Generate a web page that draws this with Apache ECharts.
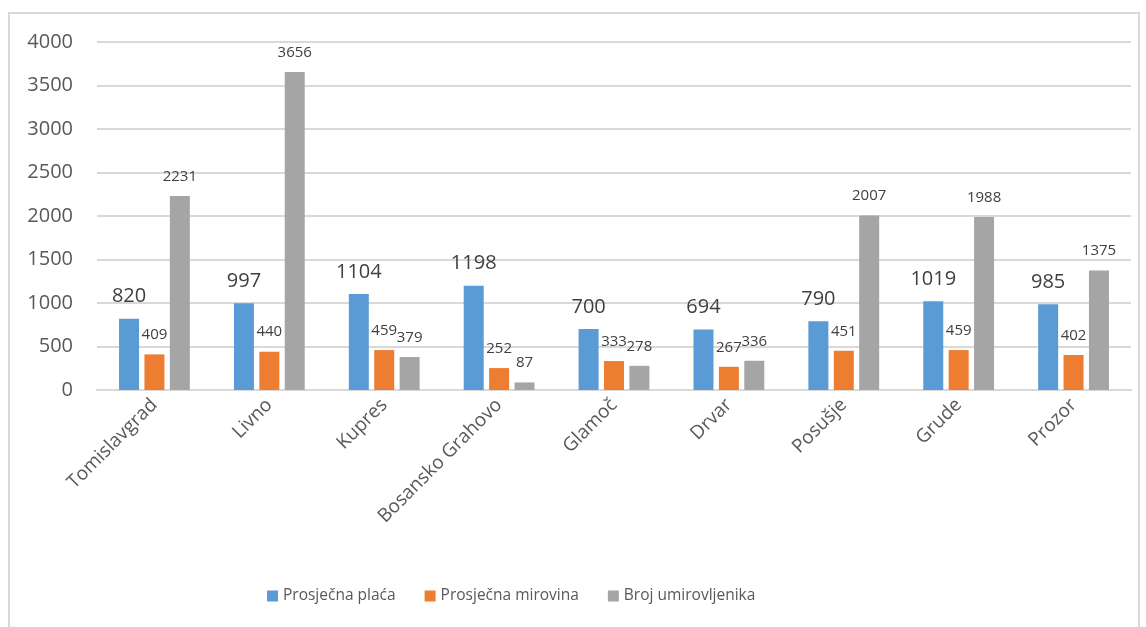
<!DOCTYPE html>
<html>
<head>
<meta charset="utf-8">
<script src="https://cdn.jsdelivr.net/npm/echarts@6/dist/echarts.min.js"></script>
<style>
  html, body { margin: 0; padding: 0; background: #fff; }
  #chart { width: 1146px; height: 627px; }
</style>
</head>
<body>
<div id="chart"></div>
<script>
const categories = ['Tomislavgrad', 'Livno', 'Kupres', 'Bosansko Grahovo', 'Glamoč', 'Drvar', 'Posušje', 'Grude', 'Prozor'];
const placa = [820, 997, 1104, 1198, 700, 694, 790, 1019, 985];
const mirovina = [409, 440, 459, 252, 333, 267, 451, 459, 402];
const umirovljenici = [2231, 3656, 379, 87, 278, 336, 2007, 1988, 1375];

const font = 'Open Sans';
const textColor = '#595959';

const chart = echarts.init(document.getElementById('chart'));

function barSeries(name, data, color, labelSize) {
  return {
    name: name,
    type: 'bar',
    data: data,
    barWidth: 20,
    barGap: '27%',
    itemStyle: { color: color },
    label: {
      show: true,
      position: 'top',
      distance: 12,
      color: '#404040',
      fontFamily: font,
      fontSize: labelSize
    }
  };
}

chart.setOption({
  animation: false,
  graphic: [{
    type: 'rect',
    shape: { x: 9, y: 13, width: 1130, height: 640 },
    style: { fill: 'none', stroke: '#d9d9d9', lineWidth: 2 },
    silent: true
  }],
  grid: { left: 97, right: 15, top: 42, bottom: 237 },
  legend: {
    left: 262,
    top: 583,
    itemWidth: 11,
    itemHeight: 11,
    itemGap: 29,
    icon: 'rect',
    textStyle: { color: textColor, fontFamily: font, fontSize: 15.5 },
    data: ['Prosječna plaća', 'Prosječna mirovina', 'Broj umirovljenika']
  },
  xAxis: {
    type: 'category',
    data: categories,
    axisLine: { lineStyle: { color: '#d9d9d9', width: 2 } },
    axisTick: { show: false },
    axisLabel: {
      rotate: 45,
      margin: 12,
      interval: 0,
      color: textColor,
      fontFamily: font,
      fontSize: 19
    }
  },
  yAxis: {
    type: 'value',
    min: 0,
    max: 4000,
    interval: 500,
    axisLine: { show: false },
    axisTick: { show: false },
    splitLine: { lineStyle: { color: '#d9d9d9', width: 2 } },
    axisLabel: {
      margin: 24,
      color: textColor,
      fontFamily: font,
      fontSize: 20,
      formatter: function (v) { return String(v); }
    }
  },
  series: [
    barSeries('Prosječna plaća', placa, '#5B9BD5', 20),
    barSeries('Prosječna mirovina', mirovina, '#ED7D31', 15),
    barSeries('Broj umirovljenika', umirovljenici, '#A5A5A5', 15)
  ]
});
</script>
</body>
</html>
